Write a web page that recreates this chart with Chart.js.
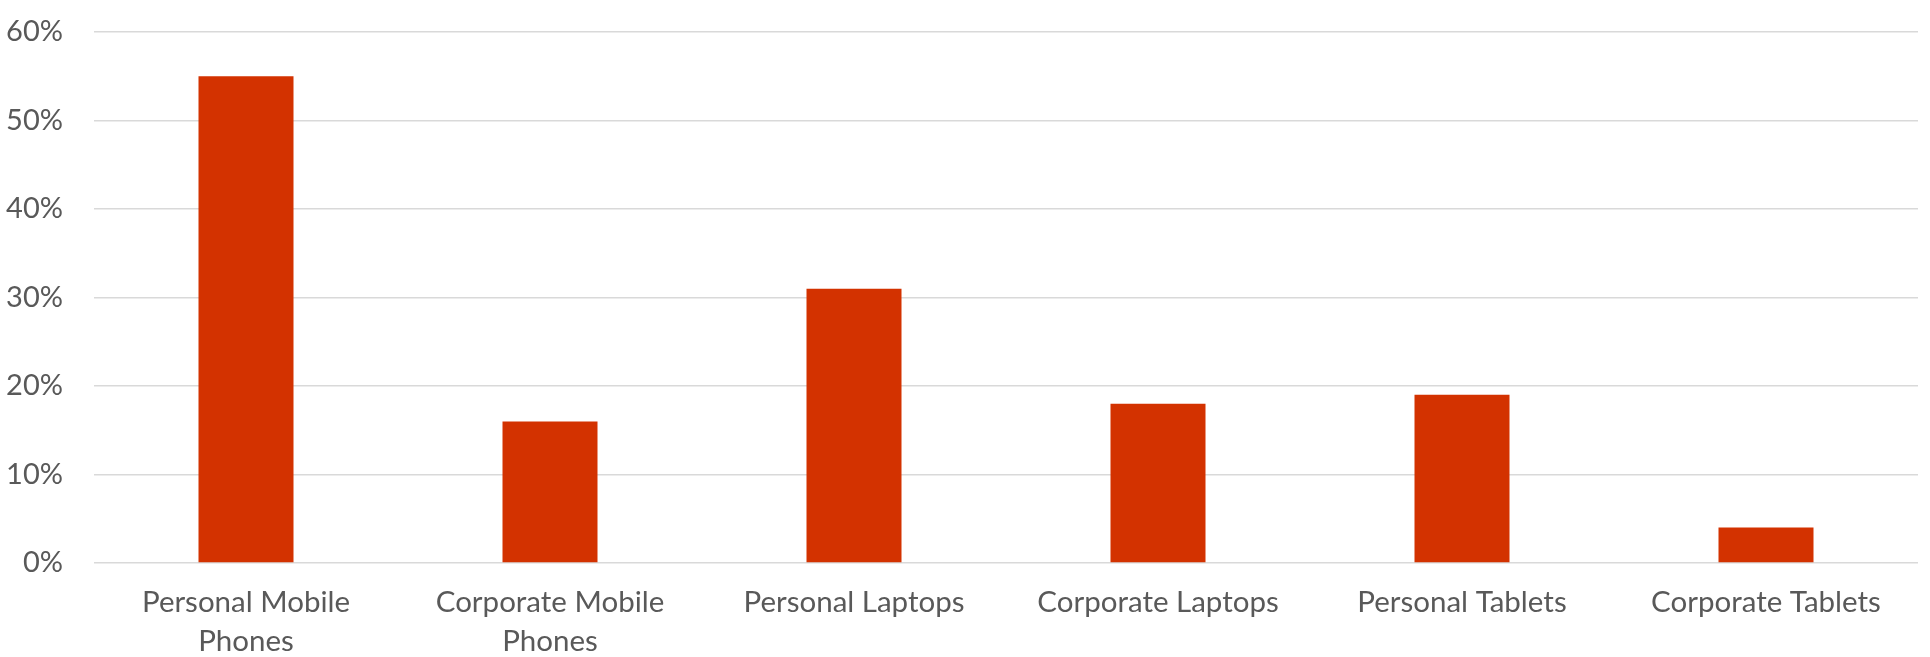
<!DOCTYPE html>
<html>
<head>
<meta charset="utf-8">
<script src="https://cdn.jsdelivr.net/npm/chart.js@4.4.1/dist/chart.umd.min.js"></script>
<style>
  html, body { margin: 0; padding: 0; background: #ffffff; }
  #wrap { width: 1930px; height: 657px; position: relative; }
</style>
</head>
<body>
<div id="wrap"><canvas id="c"></canvas></div>
<script>
const categories = [
  ["Personal Mobile", "Phones"],
  ["Corporate Mobile", "Phones"],
  "Personal Laptops",
  "Corporate Laptops",
  "Personal Tablets",
  "Corporate Tablets"
];
const values = [55, 16, 31, 18, 19, 4];
const yTickValues = [0, 10, 20, 30, 40, 50, 60];
const yTickSuffix = "%";

const FONT = "Lato, 'Open Sans', sans-serif";
const TEXT = "#595959";

new Chart(document.getElementById("c"), {
  type: "bar",
  data: {
    labels: categories,
    datasets: [{
      data: values,
      backgroundColor: "#D33200",
      borderWidth: 0,
      categoryPercentage: 1.0,
      barPercentage: 0.3125
    }]
  },
  options: {
    responsive: true,
    maintainAspectRatio: false,
    devicePixelRatio: 1,
    animation: false,
    layout: { padding: { top: 32, right: 12, left: 0, bottom: 0 } },
    plugins: { legend: { display: false }, tooltip: { enabled: false }, title: { display: false } },
    scales: {
      x: {
        grid: { display: false, drawTicks: false },
        border: { display: false },
        ticks: {
          color: TEXT,
          font: { family: FONT, size: 29.5, lineHeight: 1.32 },
          padding: 20,
          maxRotation: 0,
          autoSkip: false
        },
        afterFit: (s) => { s.height = 657 - 563; }
      },
      y: {
        min: 0,
        max: 60,
        afterBuildTicks: (s) => { s.ticks = yTickValues.map(v => ({ value: v })); },
        grid: { color: "#D9D9D9", lineWidth: 1.5, drawTicks: true, tickLength: 31, tickColor: "rgba(0,0,0,0)" },
        border: { display: false },
        ticks: {
          color: TEXT,
          font: { family: FONT, size: 29 },
          padding: 0,
          callback: (v) => v + yTickSuffix
        },
        afterFit: (s) => { s.width = 94; }
      }
    }
  }
});
</script>
</body>
</html>
